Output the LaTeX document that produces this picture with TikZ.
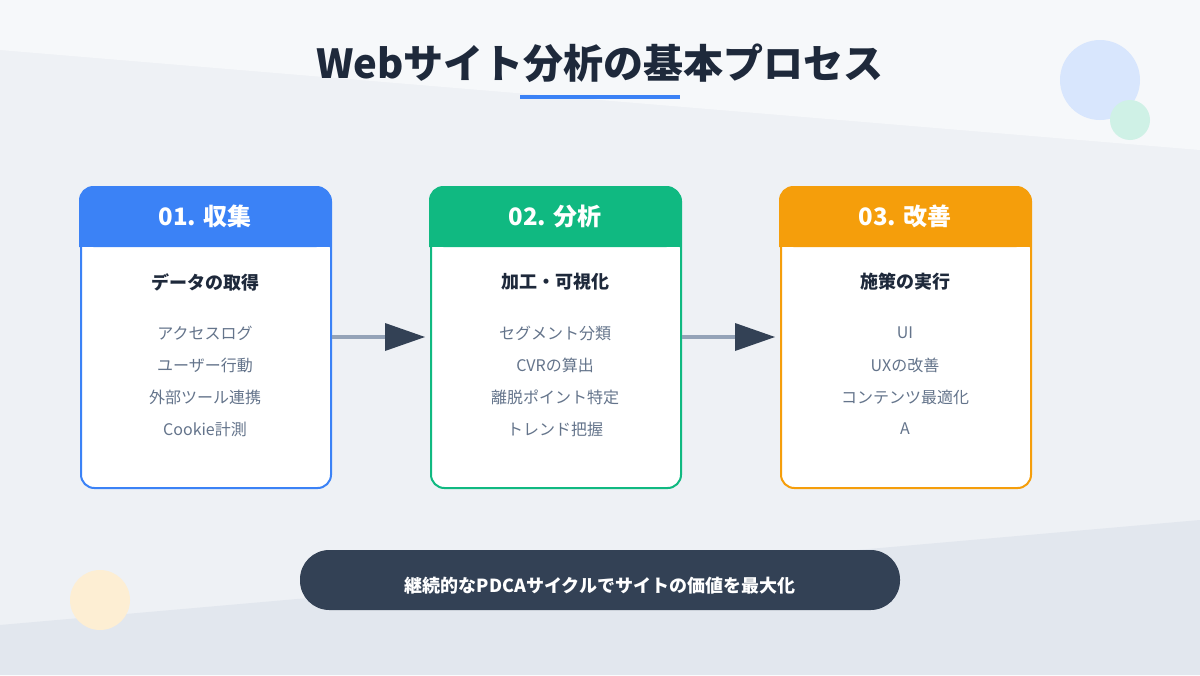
\documentclass[tikz,border=0pt]{standalone}
\usepackage{fontspec}
\setmainfont{Noto Sans CJK JP}
\usetikzlibrary{positioning,arrows.meta}
\definecolor{bgbase}{HTML}{EEF1F5}
\definecolor{bglight}{HTML}{F6F8FA}
\definecolor{bgdark}{HTML}{E2E7EE}
\definecolor{titlecol}{HTML}{1E293B}
\definecolor{itemcol}{HTML}{64748B}
\definecolor{arrline}{HTML}{94A3B8}
\definecolor{arrhead}{HTML}{334155}
\definecolor{cblue}{HTML}{3B82F6}
\definecolor{cgreen}{HTML}{10B981}
\definecolor{corange}{HTML}{F59E0B}
\tikzset{
  card/.style={draw=#1, line width=1.5pt, fill=white, rounded corners=10pt,
    minimum width=187.5pt, minimum height=225pt, anchor=north west, inner sep=0pt},
  head/.style={font=\bfseries\fontsize{18}{20}\selectfont, text=white},
  sub/.style={font=\bfseries\fontsize{13.5}{15}\selectfont, text=titlecol},
  item/.style={font=\fontsize{12}{14}\selectfont, text=itemcol},
  flow/.style={draw=arrline, line width=3pt},
  tip/.style={fill=arrhead, draw=none},
}
\begin{document}
\begin{tikzpicture}[x=0.75pt,y=-0.75pt]
% Background
\fill[bgbase] (0,0) rectangle (1200,675);
\useasboundingbox (0,0) rectangle (1200,675);
\fill[bglight] (0,50) -- (1200,150) -- (1200,0) -- (0,0) -- cycle;
\fill[bgdark] (0,625) -- (1200,520) -- (1200,675) -- (0,675) -- cycle;
\fill[cblue!20] (1100,80) circle (40);
\fill[cgreen!20] (1130,120) circle (20);
\fill[corange!18] (100,600) circle (30);

% Title
\node[font=\bfseries\fontsize{30}{34}\selectfont, text=titlecol] (title) at (600,63) {Webサイト分析の基本プロセス};
\draw[cblue, line width=3pt] (520,97) -- (680,97);

% Cards
\foreach \x/\col/\name/\hd/\sb/\a/\b/\c/\d in {
  80/cblue/collect/01. 収集/データの取得/アクセスログ/ユーザー行動/外部ツール連携/Cookie計測,
  430/cgreen/analyze/02. 分析/加工・可視化/セグメント分類/CVRの算出/離脱ポイント特定/トレンド把握,
  780/corange/improve/03. 改善/施策の実行/UI/UXの改善/コンテンツ最適化/A/Bテスト/効果検証}{
  \node[card=\col] (\name) at (\x,187) {};
  \fill[\col, rounded corners=10pt] (\x,187) rectangle (\x+250,247);
  \fill[\col] (\x,227) rectangle (\x+250,247);
  \draw[\col, line width=1.5pt, rounded corners=10pt] (\x,247) -- (\x,187) -- (\x+250,187) -- (\x+250,247);
  \node[head] (\name-head) at (\x+125,216) {\hd};
  \node[sub] (\name-sub) at (\x+125,282) {\sb};
  \node[item] (\name-a) at (\x+125,333) {\a};
  \node[item] (\name-b) at (\x+125,365) {\b};
  \node[item] (\name-c) at (\x+125,397) {\c};
  \node[item] (\name-d) at (\x+125,429) {\d};
}

% Connectors
\coordinate (t1) at (385,337);
\coordinate (t2) at (735,337);
\draw[flow] (collect.east |- t1) -- (t1);
\fill[tip] (t1) ++(0,-14) -- ++(40,14) -- ++(-40,14) -- cycle;
\draw[flow] (analyze.east |- t2) -- (t2);
\fill[tip] (t2) ++(0,-14) -- ++(40,14) -- ++(-40,14) -- cycle;

% Footer
\fill[arrhead, rounded corners=22pt] (300,550) rectangle (900,610);
\node[font=\bfseries\fontsize{13.5}{15}\selectfont, text=white] (footer) at (600,586) {継続的なPDCAサイクルでサイトの価値を最大化};
\end{tikzpicture}
\end{document}
